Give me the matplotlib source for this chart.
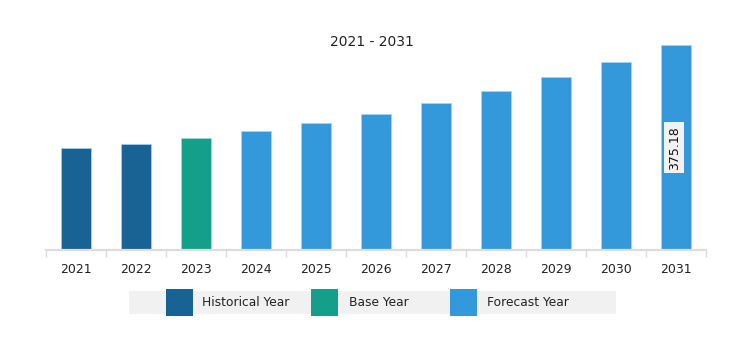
import matplotlib.pyplot as plt
from matplotlib.patches import Rectangle

# Market size by year
years = ["2021", "2022", "2023", "2024", "2025", "2026",
         "2027", "2028", "2029", "2030", "2031"]
values = [187.0, 194.8, 205.2, 218.0, 232.6, 249.6,
          269.7, 291.1, 316.7, 344.1, 375.18]
kinds = ["Historical Year", "Historical Year", "Base Year"] + ["Forecast Year"] * 8

legend_labels = ["Historical Year", "Base Year", "Forecast Year"]
palette = {"Historical Year": "#196294",
           "Base Year": "#139f8a",
           "Forecast Year": "#3499db"}

W, H = 736, 342
fig = plt.figure(figsize=(W / 100, H / 100), dpi=100)
ax = fig.add_axes([46 / W, (H - 250.3) / H, 660 / W, 205.3 / H])

x = range(len(years))
ax.bar(x, values, width=0.5,
       color=[palette[k] for k in kinds],
       edgecolor="#a9d2ee", linewidth=0.5)

ax.set_xlim(-0.5, len(years) - 0.5)
ax.set_ylim(0, values[-1])

for side in ("top", "right", "left"):
    ax.spines[side].set_visible(False)
ax.spines["bottom"].set_color("#dddddd")
ax.spines["bottom"].set_linewidth(1.6)
ax.set_yticks([])

# category labels at centres, tick marks at slot edges
ax.set_xticks(list(x))
ax.set_xticklabels(years, fontsize=9, color="#222222")
ax.tick_params(axis="x", which="major", length=0, pad=9)
ax.set_xticks([i - 0.5 for i in range(len(years) + 1)], minor=True)
ax.tick_params(axis="x", which="minor", length=5, width=1, color="#dddddd")

# value label on the last bar
ax.text(x[-1] - 0.03, values[-1] / 2, f"{values[-1]:.2f}", rotation=90,
        ha="center", va="center", fontsize=9, color="#111111",
        bbox=dict(boxstyle="square,pad=0.3", fc="#f2f2f2", ec="none"))

fig.text(372 / W, 1 - 42 / H, "2021 - 2031", ha="center", va="center",
         fontsize=10, color="#222222")

# legend strip
fig.add_artist(Rectangle((129 / W, 1 - 314 / H), 487 / W, 23 / H,
                         transform=fig.transFigure, fc="#f1f1f1", ec="none"))
patch_x = [166, 311, 450]
text_x = [202, 349, 487]
for lab, px, tx in zip(legend_labels, patch_x, text_x):
    fig.add_artist(Rectangle((px / W, 1 - 316 / H), 27 / W, 27 / H,
                             transform=fig.transFigure,
                             fc=palette[lab], ec="none"))
    fig.text(tx / W, 1 - 302.5 / H, lab, ha="left", va="center",
             fontsize=8.8, color="#222222")

fig.savefig("out.png", dpi=100)
